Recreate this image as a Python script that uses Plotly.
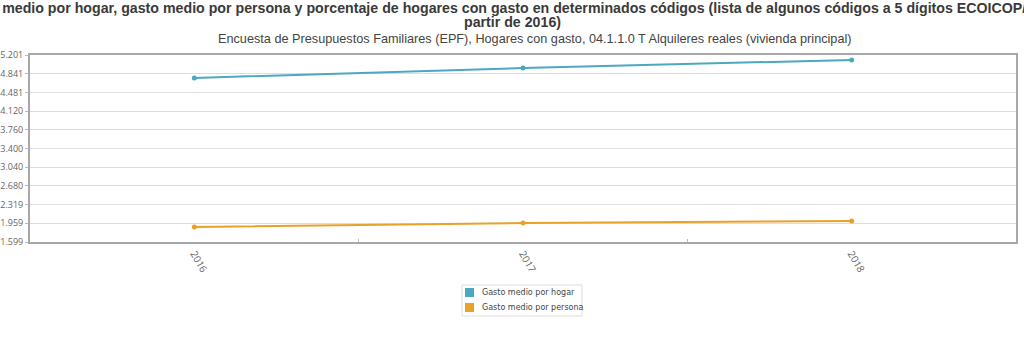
import plotly.graph_objects as go

# Encuesta de Presupuestos Familiares: alquileres reales (vivienda principal)
years = ["2016", "2017", "2018"]
gasto_hogar = [4758, 4951, 5105]
gasto_persona = [1888, 1965, 2004]

y_ticks = [1599, 1959, 2319, 2680, 3040, 3400, 3760, 4120, 4481, 4841, 5201]
y_tick_text = ["1.599", "1.959", "2.319", "2.680", "3.040", "3.400",
               "3.760", "4.120", "4.481", "4.841", "5.201"]

series_names = ["Gasto medio por hogar", "Gasto medio por persona"]
series_colors = ["#4aa9c1", "#e9a228"]

title_lines = [
    "Gasto medio por hogar, gasto medio por persona y porcentaje de hogares con gasto "
    "en determinados códigos (lista de algunos códigos a 5 dígitos ECOICOP/EPF a",
    "partir de 2016)",
]
subtitle_text = ("Encuesta de Presupuestos Familiares (EPF), Hogares con gasto, "
                 "04.1.1.0 T Alquileres reales (vivienda principal)")

W, H = 1024, 337
M = dict(l=30, r=8, t=55, b=95)
plot_w = W - M["l"] - M["r"]
plot_h = H - M["t"] - M["b"]


def px_x(px):
    """Horizontal page pixel -> paper coordinate."""
    return (px - M["l"]) / plot_w


def px_y(py):
    """Vertical page pixel (from top) -> paper coordinate."""
    return (H - M["b"] - py) / plot_h


fig = go.Figure()

for name, values, color in zip(series_names, [gasto_hogar, gasto_persona], series_colors):
    fig.add_trace(go.Scatter(
        x=years, y=values, mode="lines+markers", name=name,
        line=dict(color=color, width=2),
        marker=dict(color=color, size=5),
        showlegend=False,
    ))

# Legend box drawn below the plot: bordered frame, square swatches and labels
shapes = [dict(type="rect", xref="paper", yref="paper",
               x0=px_x(462), x1=px_x(582), y0=px_y(285), y1=px_y(316),
               line=dict(color="#dddddd", width=1), fillcolor="white", layer="below")]
annotations = []
row_h = 15
for i, (name, color) in enumerate(zip(series_names, series_colors)):
    cy = 292.5 + i * row_h
    shapes.append(dict(type="rect", xref="paper", yref="paper",
                       x0=px_x(465), x1=px_x(474), y0=px_y(cy - 4.5), y1=px_y(cy + 4.5),
                       line=dict(width=0), fillcolor=color))
    annotations.append(dict(text=name, xref="paper", yref="paper",
                            x=px_x(480), y=px_y(cy), xanchor="left", yanchor="middle",
                            showarrow=False,
                            font=dict(family="DejaVu Sans, Verdana", size=8, color="#444444")))

# Two-line bold title (first line is wider than the page and runs off both edges)
for i, line in enumerate(title_lines):
    annotations.append(dict(text=f"<b>{line}</b>", xref="paper", yref="paper",
                            x=px_x(512), y=px_y(8 + i * 14.5), xanchor="center",
                            yanchor="middle", showarrow=False,
                            font=dict(family="Liberation Sans, Arial", size=14.2,
                                      color="#3a3a3a")))
annotations.append(dict(text=subtitle_text, xref="paper", yref="paper",
                        x=px_x(535), y=px_y(39), xanchor="center", yanchor="middle",
                        showarrow=False,
                        font=dict(family="Liberation Sans, Arial", size=12.7, color="#444444")))

fig.update_layout(
    width=W, height=H,
    margin=dict(**M, autoexpand=False),
    paper_bgcolor="white", plot_bgcolor="white",
    showlegend=False,
    shapes=shapes,
    annotations=annotations,
    xaxis=dict(type="category", range=[-0.5, 2.5], tickangle=60,
               showgrid=False, showline=True, mirror=True,
               linecolor="#a8a8a8", linewidth=2,
               ticks="inside", ticklen=3, tickcolor="#bbbbbb", tickson="boundaries",
               tickfont=dict(family="Open Sans, DejaVu Sans", size=10, color="#666666")),
    yaxis=dict(range=[1599, 5201], tickvals=y_ticks, ticktext=y_tick_text,
               showgrid=True, gridcolor="#dddddd", gridwidth=1, zeroline=False,
               showline=True, mirror=True, linecolor="#a8a8a8", linewidth=2,
               ticks="outside", ticklen=3, tickcolor="#bbbbbb",
               tickfont=dict(family="Open Sans, DejaVu Sans", size=9, color="#666666")),
)

fig.write_html("out.html")
